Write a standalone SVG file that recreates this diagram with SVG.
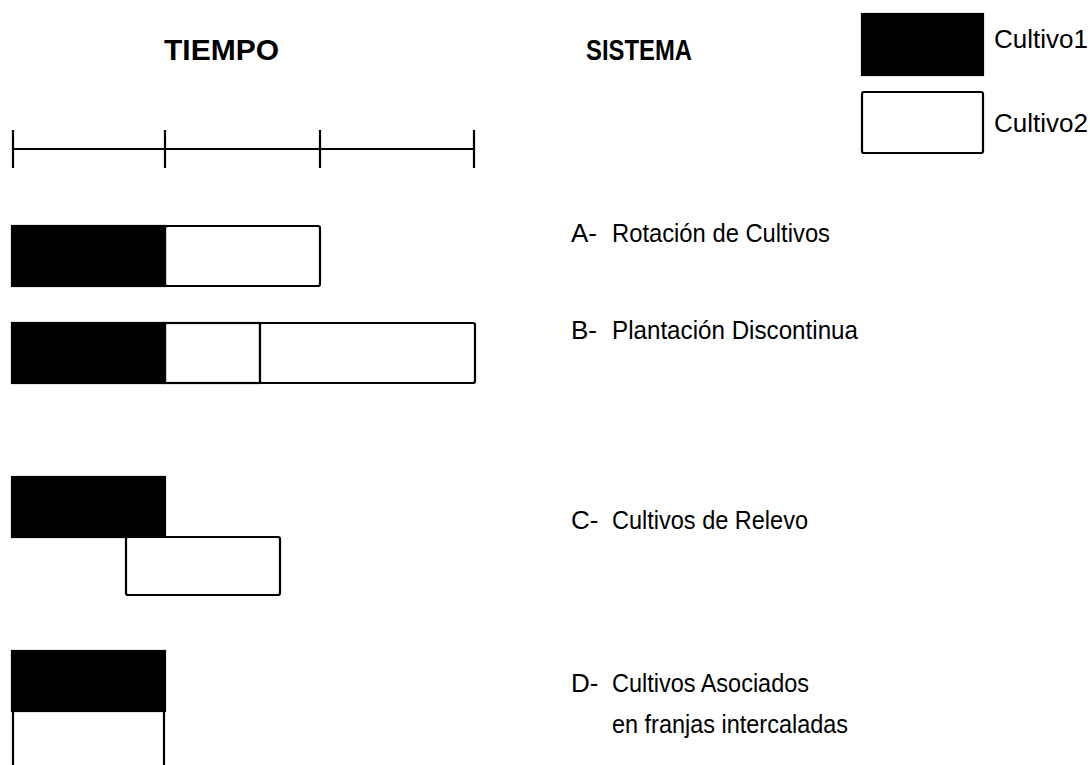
<svg xmlns="http://www.w3.org/2000/svg" width="1090" height="765" viewBox="0 0 1090 765">
<style>
text{font-family:"Liberation Sans",Arial,sans-serif;fill:#000}
.h{font-weight:bold;font-size:30px}
.l{font-size:26px}
.c1{fill:#000;stroke:#000;stroke-width:2.2}
.c2{fill:#fff;stroke:#000;stroke-width:2.2}
.ax{stroke:#000;stroke-width:2.2;fill:none}
</style>
<rect width="1090" height="765" fill="#fff"/>
<g id="headers">
<text class="h" x="164" y="60">TIEMPO</text>
<text class="h" x="586" y="60" style="font-size:29px" textLength="106" lengthAdjust="spacingAndGlyphs">SISTEMA</text>
</g>
<g id="legend">
<rect class="c1" x="862" y="14" width="121" height="61"/>
<text class="l" x="994" y="48" textLength="94" lengthAdjust="spacingAndGlyphs">Cultivo1</text>
<rect class="c2" x="862" y="92" width="121" height="61" rx="2"/>
<text class="l" x="994" y="132" textLength="94" lengthAdjust="spacingAndGlyphs">Cultivo2</text>
</g>
<g id="timeline">
<path class="ax" d="M13 149H474M13 130V168M165 130V168M320 130V168M474 130V168"/>
</g>
<g id="rowA">
<rect class="c2" x="165" y="226" width="155" height="60" rx="2"/>
<rect class="c1" x="12" y="226" width="153" height="60"/>
<text class="l" x="571" y="242">A-</text>
<text class="l" x="612" y="242" textLength="218" lengthAdjust="spacingAndGlyphs">Rotación de Cultivos</text>
</g>
<g id="rowB">
<rect class="c2" x="165" y="323" width="95" height="60"/>
<rect class="c2" x="260" y="323" width="215" height="60" rx="2"/>
<rect class="c1" x="12" y="323" width="153" height="60"/>
<text class="l" x="571" y="339">B-</text>
<text class="l" x="612" y="339" textLength="246" lengthAdjust="spacingAndGlyphs">Plantación Discontinua</text>
</g>
<g id="rowC">
<rect class="c1" x="12" y="477" width="153" height="60"/>
<rect class="c2" x="126" y="537" width="154" height="58" rx="2"/>
<text class="l" x="571" y="529">C-</text>
<text class="l" x="612" y="529" textLength="196" lengthAdjust="spacingAndGlyphs">Cultivos de Relevo</text>
</g>
<g id="rowD">
<rect class="c1" x="12" y="651" width="153" height="60"/>
<path class="ax" d="M13 711V765M164 711V765"/>
<text class="l" x="571" y="692">D-</text>
<text class="l" x="612" y="692" textLength="197" lengthAdjust="spacingAndGlyphs">Cultivos Asociados</text>
<text class="l" x="612" y="733" textLength="236" lengthAdjust="spacingAndGlyphs">en franjas intercaladas</text>
</g>
</svg>
